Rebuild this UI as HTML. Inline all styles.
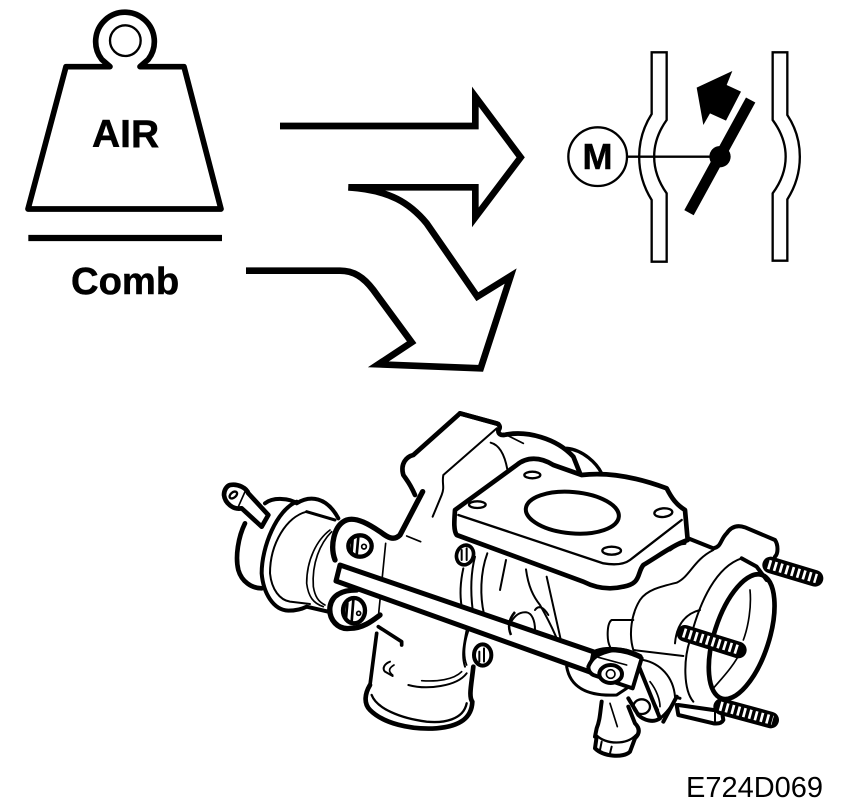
<!DOCTYPE html>
<html>
<head>
<meta charset="utf-8">
<style>
html,body{margin:0;padding:0;background:#fff;width:864px;height:808px;overflow:hidden}
svg{display:block}
text{font-family:"Liberation Sans",sans-serif;fill:#000}
.l{fill:none;stroke:#000;stroke-linejoin:round;stroke-linecap:round}
.w{fill:#fff;stroke:#000;stroke-linejoin:round;stroke-linecap:round}
</style>
</head>
<body>
<svg width="864" height="808" viewBox="0 0 864 808" xmlns="http://www.w3.org/2000/svg">
<rect width="864" height="808" fill="#fff"/>

<!-- Weight -->
<g transform="translate(10,0) scale(.33333)">
  <path d="M168 200H300L275 178A88 88 0 1 1 415 178L390 200H522L633 627H54Z" fill="none" stroke="#000" stroke-width="17" stroke-linejoin="round"/>
  <circle cx="346" cy="122" r="46" fill="none" stroke="#000" stroke-width="7"/>
  <path d="M55 714H636" stroke="#000" stroke-width="19"/>
</g>
<text x="92" y="147" font-size="39" font-weight="700" stroke="#000" stroke-width=".5">AIR</text>
<text x="71" y="294" font-size="38.2" font-weight="700" stroke="#000" stroke-width=".5">Comb</text>

<!-- Arrows -->
<g transform="translate(240,80) scale(.33333)">
  <path d="M120 138H706V50L842 232L706 412V322H325" fill="none" stroke="#000" stroke-width="20" stroke-miterlimit="8"/>
  <path d="M325 322C450 330 510 370 560 430L712 650L812 588L722 865L415 853L515 787L400 630C370 590 340 572 300 572H18" fill="none" stroke="#000" stroke-width="20" stroke-miterlimit="8"/>
</g>

<!-- Valve schematic -->
<g transform="translate(550,40) scale(.33333)">
  <path d="M305 37H350V240C300 310 300 390 350 460V665H305V480C255 400 255 300 305 222Z" fill="none" stroke="#000" stroke-width="7"/>
  <path d="M668 37H712V225C762 300 762 400 712 478V662H668V460C720 390 720 310 668 240Z" fill="none" stroke="#000" stroke-width="7"/>
  <circle cx="143" cy="350" r="88" fill="#fff" stroke="#000" stroke-width="7"/>
  <path d="M232 350H510" stroke="#000" stroke-width="7"/>
  <circle cx="510" cy="350" r="32" fill="#000"/>
  <path d="M417 518L602 180" stroke="#000" stroke-width="32"/>
  <path d="M440 143L547 93L530 135L573 155L528 242L480 220L460 255Z" fill="#000"/>
</g>
<text x="597.5" y="169" font-size="36" font-weight="700" text-anchor="middle" stroke="#000" stroke-width=".5">M</text>

<!-- Throttle body: left part -->
<g transform="translate(210,400) scale(.33333)">
  <path class="w" stroke-width="14" d="M60 255C85 250 110 265 115 280L175 345L155 380L95 325C70 330 45 310 42 285C42 270 50 258 60 255Z"/>
  <ellipse cx="70" cy="285" rx="13" ry="8" transform="rotate(-40 70 285)" class="l" stroke-width="7"/>
  <path class="l" stroke-width="5" d="M105 275L85 320"/>
  <path class="l" stroke-width="14" d="M105 370C85 410 75 470 85 510C95 545 125 565 155 565"/>
  <path class="l" stroke-width="12" d="M165 310C190 290 240 295 260 310C300 285 350 290 385 355"/>
  <path class="l" stroke-width="12" d="M260 305C200 330 155 440 155 520C160 580 190 630 235 632C265 632 280 625 290 620L355 635"/>
  <path class="l" stroke-width="6" d="M290 335C230 350 180 430 180 520C185 570 210 600 240 605L300 612"/>
  <path class="l" stroke-width="9" d="M290 335L375 360"/>
  <path class="l" stroke-width="5" d="M360 390C320 420 290 480 290 550C295 590 310 610 340 620"/>
  <path class="l" stroke-width="5" d="M365 395C330 430 305 490 310 560C315 590 325 605 345 615"/>
  <path class="l" stroke-width="14" d="M615 285C600 250 590 240 580 225C570 190 590 170 610 165L750 40L865 72"/>
  <path class="l" stroke-width="16" d="M375 480C360 440 370 375 410 360C440 350 480 375 510 395C530 410 550 425 570 405L638 275"/>
  <path class="l" stroke-width="6" d="M860 85L700 225C695 250 705 260 695 285L668 350"/>
  <path class="l" stroke-width="5" d="M590 408L632 425"/>
  <path class="l" stroke-width="5" d="M527 430L505 650"/>
  <path class="l" stroke-width="11" d="M500 700L480 855"/>
  <path class="l" stroke-width="14" d="M480 855C465 880 460 910 480 930C520 970 600 990 680 985C740 980 785 960 787 905C775 890 785 850 790 800"/>
  <path class="l" stroke-width="7" d="M485 885C500 925 570 955 650 965C700 970 760 960 770 910"/>
  <path class="l" stroke-width="11" d="M505 680L575 725V735"/>
  <path class="l" stroke-width="6" d="M540 785C525 790 515 805 525 815L548 828"/>
  <path class="l" stroke-width="5" d="M552 795C535 805 535 815 548 825"/>
  <path class="l" stroke-width="6" d="M595 855C650 870 740 860 770 820"/>
  <path class="l" stroke-width="5" d="M635 842C680 845 730 840 755 815"/>
  <path class="l" stroke-width="5" d="M780 680C760 730 760 770 770 795"/>
  <path class="w" stroke-width="16" d="M440 570C390 570 365 590 360 620C355 660 385 690 420 685C460 685 490 660 510 645"/>
  <ellipse cx="450" cy="438" rx="35" ry="32" class="w" stroke-width="13"/>
  <path class="l" stroke-width="8" d="M428 415L425 455M445 410L440 465"/>
  <circle cx="462" cy="440" r="7" class="w" stroke-width="5"/>
  <ellipse cx="432" cy="632" rx="33" ry="38" class="w" stroke-width="13"/>
  <path class="l" stroke-width="8" d="M412 610L408 655M430 600L425 665"/>
  <circle cx="446" cy="640" r="6" class="w" stroke-width="5"/>
  <ellipse cx="818" cy="765" rx="26" ry="32" class="w" stroke-width="12"/>
  <path class="l" stroke-width="6" d="M808 755V785M822 745V785"/>
</g>

<!-- Housing behind flange -->
<g transform="translate(400,410) scale(.33333)">
  <path class="l" stroke-width="14" d="M180 10L290 40C300 45 302 52 295 62C295 72 302 76 312 75C380 60 470 85 520 140L540 190"/>
  <path class="l" stroke-width="10" d="M500 115C550 120 590 160 605 190"/>
  <path class="l" stroke-width="5" d="M310 70L370 100"/>
  <path class="l" stroke-width="6" d="M272 98C300 105 315 140 322 178"/>
  <path class="l" stroke-width="6" d="M190 475C180 520 180 560 185 590"/>
  <path class="l" stroke-width="6" d="M225 440C212 490 212 550 218 600"/>
  <path class="l" stroke-width="6" d="M262 430C240 490 240 560 252 612"/>
  <path class="l" stroke-width="6" d="M318 450L300 540"/>
  <path class="l" stroke-width="6" d="M378 478C385 530 400 560 420 585C440 620 455 650 468 680"/>
  <path class="l" stroke-width="6" d="M440 500L482 688"/>
  <path class="l" stroke-width="6" d="M325 650C340 620 355 605 380 607C395 610 405 630 405 660"/>
  <path class="l" stroke-width="6" d="M405 600C415 585 430 590 445 615"/>
  <path class="l" stroke-width="6" d="M200 660C190 710 185 740 195 770"/>
  <ellipse cx="195" cy="435" rx="25" ry="30" transform="rotate(20 195 435)" class="w" stroke-width="11"/>
  <path class="l" stroke-width="6" d="M185 420V450M200 415V450"/>
</g>

<!-- Right part -->
<g transform="translate(500,440) scale(.33333)">
  <path class="l" stroke-width="12" d="M565 295L640 325C665 320 660 300 680 280C695 258 715 255 735 262L825 300C835 315 835 340 825 350"/>
  <path class="l" stroke-width="6" d="M640 330C580 360 570 410 530 428C480 440 440 450 420 480C395 520 385 580 400 630L550 648"/>
  <path class="l" stroke-width="6" d="M400 540H335C320 550 320 600 330 620"/>
  <path class="l" stroke-width="6" d="M725 355C650 380 600 480 570 600C550 660 550 750 580 785"/>
  <path class="l" stroke-width="6" d="M600 510C560 520 530 550 525 610"/>
  <path class="l" stroke-width="12" d="M725 355L770 380L800 420"/>
  <ellipse cx="725" cy="590" rx="82" ry="195" transform="rotate(18 725 590)" class="l" stroke-width="14"/>
  <path class="l" stroke-width="5" d="M750 450C755 500 745 560 730 600"/>
  <path class="l" stroke-width="5" d="M640 745C670 710 700 680 725 630"/>
  <path class="l" stroke-width="6" d="M430 660C480 670 520 710 525 770"/>
  <path class="l" stroke-width="12" d="M530 770L490 845"/>
  <path class="l" stroke-width="12" d="M530 795L535 825L640 850C655 852 665 850 670 840L665 810M535 795L640 810"/>
  <path class="l" stroke-width="6" d="M645 805V845"/>

  <!-- Studs -->
  <path d="M812 375L945 415M555 580L715 630M665 800L812 840" stroke="#000" stroke-width="50" stroke-linecap="round" fill="none"/>
  <path d="M805 373L950 416M550 578L720 631M660 798L818 841" stroke="#fff" stroke-width="28" stroke-dasharray="8 10" fill="none"/>

  <!-- Flange -->
  <path class="w" stroke-width="14" d="M-135 210L50 75C80 50 120 50 160 75L245 105C330 95 420 115 500 145C515 175 530 195 555 210L563 300C520 315 480 345 430 375C410 400 425 430 370 440C330 450 290 445 250 425L-130 285C-140 270 -137 240 -135 210Z"/>
  <path class="l" stroke-width="7" d="M-125 225L310 370C340 375 370 375 390 360L545 240"/>
  <ellipse cx="217" cy="218" rx="140" ry="62" transform="rotate(5 217 218)" class="l" stroke-width="12"/>
  <ellipse cx="97" cy="105" rx="24" ry="10" class="l" stroke-width="7"/>
  <ellipse cx="490" cy="218" rx="27" ry="13" transform="rotate(-5 490 218)" class="l" stroke-width="7"/>
  <ellipse cx="335" cy="332" rx="28" ry="12" class="l" stroke-width="7"/>
  <ellipse cx="-68" cy="194" rx="25" ry="10" class="l" stroke-width="7"/>
  <path class="l" stroke-width="9" d="M555 310C540 310 525 318 510 330"/>
</g>

<!-- Rod -->
<path d="M340 565L594 652L590 672L336 581Z" fill="#fff" stroke="#000" stroke-width="5" stroke-linejoin="round"/>
<path d="M515 612C508 620 508 628 511 635" fill="none" stroke="#000" stroke-width="2.5"/>

<!-- Linkage and solenoid -->
<g transform="translate(560,620) scale(.33333)">
  <path class="l" stroke-width="9" d="M20 140C30 200 80 230 170 225L200 205"/>
  <path class="l" stroke-width="12" d="M125 245C120 280 120 300 110 325L105 350"/>
  <path class="w" stroke-width="12" d="M110 350L105 385C130 410 190 415 210 395L225 355C240 340 240 325 225 310L205 260"/>
  <path class="l" stroke-width="7" d="M108 345C140 375 200 375 228 345"/>
  <path class="l" stroke-width="6" d="M125 365L120 390M155 380L150 400"/>
  <path class="l" stroke-width="5" d="M150 250L172 320"/>
  <path class="l" stroke-width="12" d="M235 135L300 295C280 310 250 300 235 285L205 235"/>
  <ellipse cx="245" cy="260" rx="25" ry="22" class="l" stroke-width="7"/>
  <path class="l" stroke-width="5" d="M255 190L295 270M270 185C290 210 300 240 300 260"/>
  <path class="l" stroke-width="9" d="M300 295C320 280 335 260 350 232L360 235"/>
  <path class="w" stroke-width="12" d="M85 140C95 115 110 100 160 90C190 85 230 100 245 115L218 205L100 165C90 160 85 150 85 140Z"/>
  <path class="l" stroke-width="16" d="M110 95C140 85 190 85 240 110"/>
  <path class="l" stroke-width="5" d="M115 112L200 135"/>
  <ellipse cx="152" cy="162" rx="34" ry="27" class="w" stroke-width="12"/>
  <circle cx="152" cy="162" r="13" class="w" stroke-width="5"/>
</g>

<text x="686" y="797" font-size="29">E724D069</text>
</svg>
</body>
</html>
